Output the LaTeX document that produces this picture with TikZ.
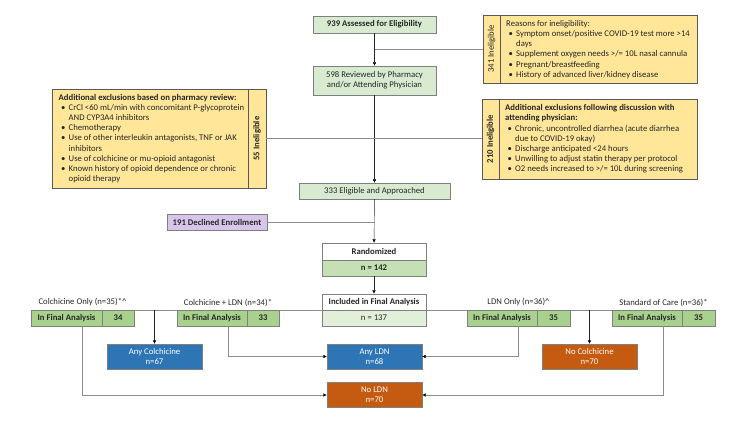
\documentclass[tikz,border=0pt]{standalone}
\usepackage{fontspec}
\setmainfont{Carlito}
\usetikzlibrary{arrows.meta,positioning,calc}

\definecolor{mgreen}{HTML}{D8EBD1}
\definecolor{ggreen}{HTML}{A9D18E}
\definecolor{rgreen}{HTML}{C5E0B4}
\definecolor{pgreen}{HTML}{E2F0D9}
\definecolor{exyellow}{HTML}{FFE699}
\definecolor{dpurple}{HTML}{D7C5EA}
\definecolor{abblue}{HTML}{2E75B6}
\definecolor{aborange}{HTML}{C55A11}
\definecolor{boxline}{HTML}{7F7F7F}
\definecolor{txt}{HTML}{262626}

\newcommand{\fs}{\fontsize{8.7}{10.2}\selectfont}
\newcommand{\bul}{\makebox[10pt][l]{\hspace{2.5pt}\textbullet}}
\newcommand{\cnt}{\hspace*{10pt}}

\begin{document}
\begin{tikzpicture}[x=1pt, y=-1pt, >={Latex[length=3.5pt,width=3.5pt,color=black]}, font=\fs,
  base/.style={draw=boxline, inner sep=0pt, align=center, text=txt},
  mainbox/.style={base, fill=mgreen},
  boldtxt/.style={font=\fs\bfseries},
  grpbox/.style={base, fill=ggreen, minimum height=16pt, boldtxt},
  exbox/.style={base, draw=black!65, fill=exyellow},
  listtxt/.style={inner sep=0pt, align=left, text=txt},
  armbox/.style={base, draw=boxline, minimum width=95pt, minimum height=25pt, text=white},
  flow/.style={draw=black!85, ->},
  link/.style={draw=black!45}]
\useasboundingbox (0,0) rectangle (750,422);

% screening
\node[mainbox, boldtxt, minimum width=123pt, minimum height=17pt] (assess) at (374.5,24.5) {939 Assessed for Eligibility};
\node[mainbox, minimum width=123pt, minimum height=29pt] (review) at (374.5,80.5) {598 Reviewed by Pharmacy\\and/or Attending Physician};
\node[mainbox, minimum width=151pt, minimum height=16pt] (elig) at (374.5,191) {333 Eligible and Approached};
\node[base, fill=dpurple, boldtxt, minimum width=100pt, minimum height=16pt] (declined) at (217,222) {191 Declined Enrollment};

% exclusion boxes
\node[exbox, minimum width=214pt, minimum height=68pt] (inel341) at (590,49) {};
\node[exbox, minimum width=17pt, minimum height=68pt] (strip341) at (491.5,49) {};
\node[rotate=90, text=txt] at (strip341) {341 Ineligible};
\node[listtxt, anchor=west] (list341) at (506,49.5) {Reasons for ineligibility:\\
  \bul Symptom onset/positive COVID-19 test more >14\\
  \cnt days\\
  \bul Supplement oxygen needs >/= 10L nasal cannula\\
  \bul Pregnant/breastfeeding\\
  \bul History of advanced liver/kidney disease};

\node[exbox, minimum width=214pt, minimum height=99pt] (inel55) at (159,138.5) {};
\node[exbox, minimum width=18pt, minimum height=99pt] (strip55) at (257,138.5) {};
\node[rotate=90, text=txt, boldtxt] at (strip55) {55 Ineligible};
\node[listtxt, anchor=west] (list55) at (58.5,138.5) {\textbf{Additional exclusions based on pharmacy review:}\\
  \bul CrCl <60 mL/min with concomitant P-glycoprotein\\
  \cnt AND CYP3A4 inhibitors\\
  \bul Chemotherapy\\
  \bul Use of other interleukin antagonists, TNF or JAK\\
  \cnt inhibitors\\
  \bul Use of colchicine or mu-opioid antagonist\\
  \bul Known history of opioid dependence or chronic\\
  \cnt opioid therapy};

\node[exbox, minimum width=215pt, minimum height=80pt] (inel210) at (589.5,139) {};
\node[exbox, minimum width=17pt, minimum height=80pt] (strip210) at (490.5,139) {};
\node[rotate=90, text=txt, boldtxt] at (strip210) {210 Ineligible};
\node[listtxt, anchor=west] (list210) at (505,139) {\textbf{Additional exclusions following discussion with}\\
  \textbf{attending physician:}\\
  \bul Chronic, uncontrolled diarrhea (acute diarrhea\\
  \cnt due to COVID-19 okay)\\
  \bul Discharge anticipated <24 hours\\
  \bul Unwilling to adjust statin therapy per protocol\\
  \bul O2 needs increased to >/= 10L during screening};

% randomization
\node[base, fill=white, boldtxt, minimum width=104pt, minimum height=17pt] (randT) at (374,251.5) {Randomized};
\node[base, fill=rgreen, boldtxt, minimum width=104pt, minimum height=16pt] (randB) at (374,268) {n = 142};

% groups
\draw[link] (31,310) -- (715,310);
\node[base, fill=white, boldtxt, minimum width=104pt, minimum height=16pt] (inclT) at (374,302) {Included in Final Analysis};
\node[base, fill=pgreen, minimum width=104pt, minimum height=16pt] (inclB) at (374,318) {n = 137};

\node[text=txt] (labA) at (82.5,302.5) {Colchicine Only (n=35)*\textasciicircum};
\node[grpbox, minimum width=71pt] (coA) at (66.5,318) {In Final Analysis};
\node[grpbox, minimum width=32pt] (coB) at (118,318) {34};

\node[text=txt] (labB) at (228,302.5) {Colchicine + LDN (n=34)*};
\node[grpbox, minimum width=70pt] (cbA) at (212,318) {In Final Analysis};
\node[grpbox, minimum width=32pt] (cbB) at (263,318) {33};

\node[text=txt] (labC) at (518.5,302.5) {LDN Only (n=36)\textasciicircum};
\node[grpbox, minimum width=70pt] (ldA) at (502,318) {In Final Analysis};
\node[grpbox, minimum width=33pt] (ldB) at (553.5,318) {35};

\node[text=txt] (labD) at (663.5,302.5) {Standard of Care (n=36)*};
\node[grpbox, minimum width=70pt] (soA) at (647,318) {In Final Analysis};
\node[grpbox, minimum width=33pt] (soB) at (698.5,318) {35};

% pooled arms
\node[armbox, fill=abblue] (anyC) at (154.5,356.5) {Any Colchicine\\n=67};
\node[armbox, fill=abblue] (anyL) at (374.5,356.5) {Any LDN\\n=68};
\node[armbox, fill=aborange] (noC) at (589.5,356.5) {No Colchicine\\n=70};
\node[armbox, fill=aborange] (noL) at (374.5,395) {No LDN\\n=70};

% connectors
\draw[flow] (assess) -- (review);
\coordinate (j341) at ($(assess.south)!0.5!(review.north)$);
\draw[link] (j341) -- (j341 -| inel341.west);
\draw[flow] (review) -- (elig);
\draw[link] (inel55.east) -- (inel55.east -| inel210.west);
\draw[flow] (elig) -- (randT);
\draw[link] (declined.east) -- (declined.east -| elig.south);
\draw[flow] (randB) -- (inclT);

\draw[flow] (anyC.north |- coA.north) -- (anyC.north);
\draw[flow] (noC.north |- soA.north) -- (noC.north);
\draw[link, ->] (labA |- coA.south) |- (noL.west);
\draw[link, ->] (labB |- cbA.south) |- (anyL.west);
\draw[link, ->] (labC |- ldA.south) |- (anyL.east);
\draw[link, ->] (labD |- soA.south) |- (noL.east);
\end{tikzpicture}
\end{document}
